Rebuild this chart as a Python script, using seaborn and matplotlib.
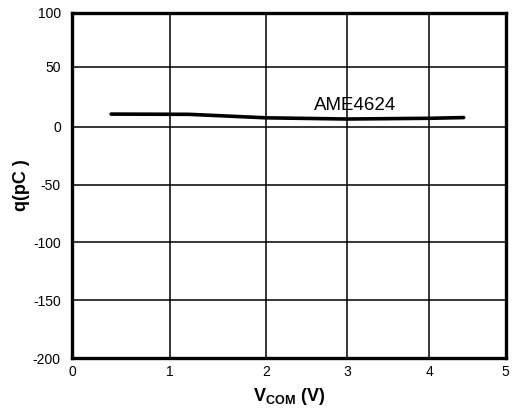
import numpy as np
import pandas as pd
import matplotlib
matplotlib.use("Agg")
import matplotlib.pyplot as plt
import seaborn as sns

# Data
vcom = [0.4, 1.2, 2.0, 3.0, 4.0, 4.45]
charge = [10.5, 10.3, 7.4, 6.4, 7.0, 7.6]
x_ticks = [0, 1, 2, 3, 4, 5]
y_ticks = [-200, -150, -100, -50, 0, 50, 100]
series_label = "AME4624"

df = pd.DataFrame({"vcom": vcom, "q": charge})

sns.set_style("white")
plt.rcParams["font.family"] = ["Liberation Sans", "DejaVu Sans"]
plt.rcParams["mathtext.fontset"] = "custom"
plt.rcParams["mathtext.rm"] = "Liberation Sans"
plt.rcParams["mathtext.bf"] = "Liberation Sans:bold"
plt.rcParams["text.color"] = "black"
plt.rcParams["xtick.color"] = "black"
plt.rcParams["ytick.color"] = "black"
plt.rcParams["axes.labelcolor"] = "black"

# the original axes are slightly non-uniform; mimic with piecewise scales
x_knots = [0, 1, 2, 3, 4, 5]
x_pos = [0, 98, 194, 275, 357.5, 434]
y_knots = [-200, -150, -100, -50, 0, 50, 100]
y_pos = [0, 57.9, 115.8, 173.7, 231.6, 291.6, 345.6]

def fwd_x(v):
    return np.interp(v, x_knots, x_pos)

def inv_x(v):
    return np.interp(v, x_pos, x_knots)

def fwd_y(v):
    return np.interp(v, y_knots, y_pos)

def inv_y(v):
    return np.interp(v, y_pos, y_knots)

fig = plt.figure(figsize=(5.14, 4.16), dpi=100)
ax = fig.add_axes([0.140, 0.1387, 0.844, 0.8308])

sns.lineplot(data=df, x="vcom", y="q", color="black", linewidth=2.6, ax=ax)

ax.set_xscale("function", functions=(fwd_x, inv_x))
ax.set_yscale("function", functions=(fwd_y, inv_y))
ax.set_xlim(0, 5)
ax.set_ylim(-200, 100)
ax.set_xticks(x_ticks)
ax.set_yticks(y_ticks)
ax.set_xticklabels([str(t) for t in x_ticks], fontsize=10)
ax.set_yticklabels([str(t) for t in y_ticks], fontsize=10)
ax.tick_params(axis="x", length=0, pad=5)
ax.tick_params(axis="y", length=0, pad=8)
ax.xaxis.set_minor_locator(matplotlib.ticker.NullLocator())
ax.yaxis.set_minor_locator(matplotlib.ticker.NullLocator())

ax.grid(True, color="black", linewidth=1.1)
for s in ax.spines.values():
    s.set_visible(True)
    s.set_color("black")
    s.set_linewidth(2.4)

ax.text(3.1, 18, series_label, fontsize=13.5, ha="center", va="center")

ax.set_xlabel(r"$\mathbf{V}_{\mathbf{COM}}$ (V)", fontsize=13, fontweight="bold", labelpad=5)
ax.set_ylabel("q(pC )", fontsize=13, fontweight="bold", labelpad=2)

fig.savefig("out.png", dpi=100)
